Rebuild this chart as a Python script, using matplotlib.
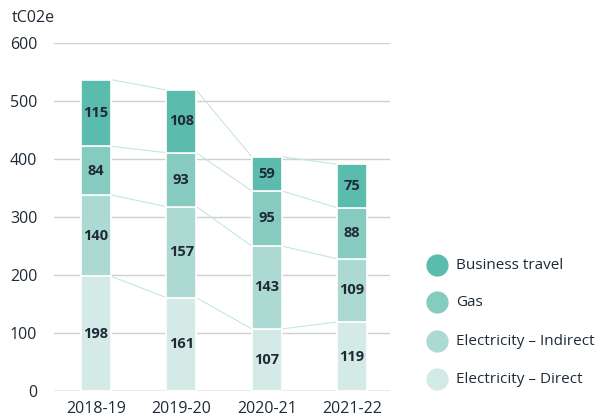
import matplotlib.pyplot as plt
import numpy as np

years = ['2018-19', '2019-20', '2020-21', '2021-22']
direct = [198, 161, 107, 119]
indirect = [140, 157, 143, 109]
gas = [84, 93, 95, 88]
travel = [115, 108, 59, 75]

series = [direct, indirect, gas, travel]
names = ['Electricity – Direct', 'Electricity – Indirect', 'Gas', 'Business travel']
colors = ['#d4eae6', '#acd9d2', '#86cbbf', '#5bbcae']

plt.rcParams['font.family'] = ['Open Sans', 'DejaVu Sans']
text_col = '#1f2a36'

fig = plt.figure(figsize=(6.09, 4.19), dpi=100)
ax = fig.add_axes([0.0887, 0.0668, 0.5513, 0.8305])

x = np.arange(len(years))
w = 0.35
bottom = np.zeros(len(years))
tops = []
for vals, col in zip(series, colors):
    vals = np.array(vals)
    ax.bar(x, vals, w, bottom=bottom, color=col, edgecolor='white', linewidth=1.2, zorder=3)
    for xi, b, v in zip(x, bottom, vals):
        ax.text(xi, b + v / 2, str(v), ha='center', va='center', fontsize=10.5,
                fontweight='bold', color=text_col, zorder=4)
    bottom = bottom + vals
    tops.append(bottom.copy())

# connector lines between stacked levels
for lvl in tops:
    for i in range(len(years) - 1):
        ax.plot([x[i] + w / 2, x[i + 1] - w / 2], [lvl[i], lvl[i + 1]],
                color='#c6e6e0', linewidth=0.8, zorder=2)

ax.set_xlim(-0.49, 3.44)
ax.set_ylim(0, 600)
ax.set_yticks(range(0, 601, 100))
ax.set_xticks(x)
ax.set_xticklabels(years)
ax.yaxis.grid(True, color='#d0d0d0', linewidth=1, zorder=0)
ax.set_axisbelow(True)
for s in ax.spines.values():
    s.set_visible(False)
ax.axhline(0, color='#bdbdbd', linewidth=1, zorder=1)
ax.tick_params(length=0, labelsize=11.5, colors=text_col, pad=12)
ax.tick_params(axis='x', pad=7)

fig.text(12 / 609, 1 - 18 / 419, 'tC02e', fontsize=11.5, color=text_col, va='center')

# legend
leg_y = [265, 302, 341, 379]
for yy, nm, col in zip(leg_y, names[::-1], colors[::-1]):
    fig.lines.append(plt.Line2D([437 / 609], [1 - yy / 419], marker='o', markersize=15,
                                color=col, transform=fig.transFigure, linestyle='none'))
    fig.text(456 / 609, 1 - yy / 419, nm, fontsize=11, color=text_col, va='center')

fig.savefig('out.png', dpi=100)
